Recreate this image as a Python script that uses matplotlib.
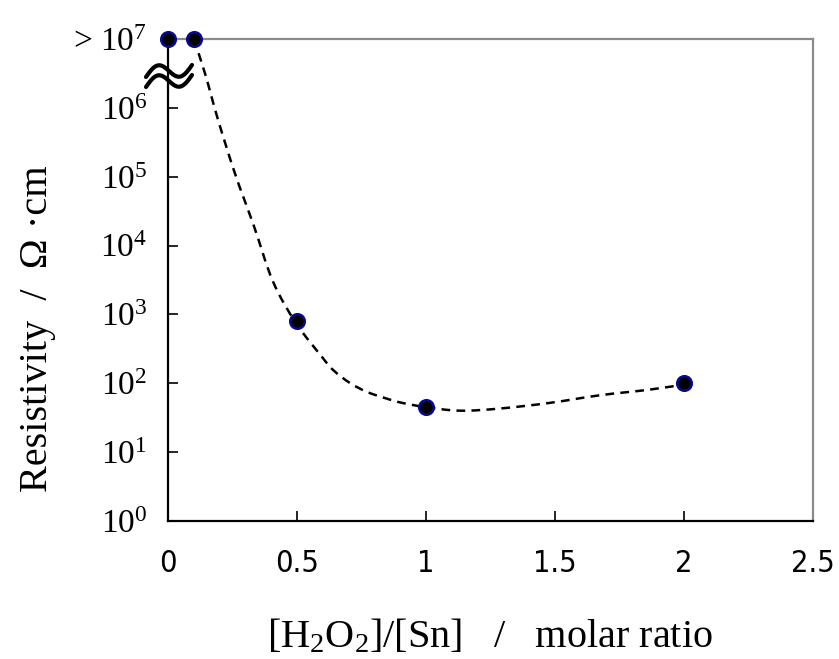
import numpy as np
import matplotlib
matplotlib.use("Agg")
import matplotlib.pyplot as plt
from matplotlib.lines import Line2D
from matplotlib.path import Path
from matplotlib.patches import PathPatch

plt.rcParams["mathtext.fontset"] = "custom"
plt.rcParams["mathtext.rm"] = "Liberation Serif"
plt.rcParams["mathtext.it"] = "Liberation Serif:italic"
plt.rcParams["mathtext.bf"] = "Liberation Serif:bold"

# measured samples
ratio = [0.0, 0.1, 0.5, 1.0, 2.0]
resistivity = [1e7, 1e7, 800, 46, 100]

# hand-drawn trend curve through the samples
trend_x = [0.1, 0.143, 0.194, 0.260, 0.333, 0.407, 0.496, 0.597, 0.640,
           0.705, 0.771, 0.841, 0.907, 1.0, 1.132, 1.287, 1.481, 1.674,
           1.868, 2.0]
trend_y = [1e7, 3.2e6, 6.7e5, 1.1e5, 1.92e4, 3.0e3, 750, 241, 156,
           101, 75, 61, 52, 45, 40, 43, 52, 67,
           81, 96]

xticks = [0, 0.5, 1, 1.5, 2, 2.5]
xtick_labels = ["0", "0.5", "1", "1.5", "2", "2.5"]
yticks = [1e0, 1e1, 1e2, 1e3, 1e4, 1e5, 1e6, 1e7]
ytick_labels = [r"$10^{0}$", r"$10^{1}$", r"$10^{2}$", r"$10^{3}$",
                r"$10^{4}$", r"$10^{5}$", r"$10^{6}$", r"> $10^{7}$"]

W, H = 839, 659
fig = plt.figure(figsize=(W / 100, H / 100), dpi=100)
ax = fig.add_axes([168 / W, 1 - 521 / H, (813 - 168) / W, (521 - 39) / H])

ax.set_yscale("log")
ax.set_xlim(0, 2.5)
ax.set_ylim(1e0, 1e7)


def smooth_path(xs, ys, sx=258.0, sy=68.86):
    """Catmull-Rom curve through the given points, as cubic Bezier segments."""
    p = np.column_stack([np.asarray(xs) * sx, np.log10(ys) * sy])
    p = np.vstack([p[0], p, p[-1]])
    verts = [p[1]]
    codes = [Path.MOVETO]
    for i in range(1, len(p) - 2):
        p0, p1, p2, p3 = p[i - 1], p[i], p[i + 1], p[i + 2]
        c1 = p1 + (p2 - p0) / 6.0
        c2 = p2 - (p3 - p1) / 6.0
        verts += [c1, c2, p2]
        codes += [Path.CURVE4] * 3
    v = np.array(verts)
    v[:, 0] /= sx
    v[:, 1] = 10 ** (v[:, 1] / sy)
    return Path(v, codes)


ax.add_patch(PathPatch(smooth_path(trend_x, trend_y), fill=False,
                       edgecolor="black", lw=1.8, ls=(0, (3.5, 2.5)), zorder=2))
ax.plot(ratio, resistivity, ls="none", marker="o", ms=10.5,
        mfc="black", mec="#0a0a90", mew=1.8, clip_on=False, zorder=3)

ax.set_xticks(xticks)
ax.set_xticklabels(xtick_labels, family="DejaVu Sans", stretch="condensed",
                   fontsize=22)
ax.set_yticks(yticks)
ax.set_yticklabels(ytick_labels, family="Liberation Serif", fontsize=24)
ax.minorticks_off()
ax.tick_params(axis="x", direction="in", length=7, width=1.2, pad=20)
ax.tick_params(axis="y", direction="in", length=7, width=1.2, pad=15)

for side in ("left", "bottom"):
    ax.spines[side].set_color("black")
    ax.spines[side].set_linewidth(1.6)
for side in ("top", "right"):
    ax.spines[side].set_color("#8a8a8a")
    ax.spines[side].set_linewidth(1.6)

ax.set_ylabel("Resistivity  /  Ω ·cm", family="Liberation Serif", fontsize=29)
ax.yaxis.set_label_coords(-0.203, 0.40)
ax.yaxis.label.set_verticalalignment("center")
ax.set_xlabel(r"[H$_2$O$_2$]/[Sn]   /   molar ratio", family="Liberation Serif",
              fontsize=29)
ax.xaxis.set_label_coords(0.499, -0.24)
ax.xaxis.label.set_verticalalignment("center")

# axis-break mark on the left spine
u = np.linspace(0, 1, 80)
for dy in (0, 10):
    px = 146 + 46 * u
    py = 77 + dy - (12 * u + 8.5 * np.sin(2 * np.pi * u))
    fig.add_artist(Line2D(px / W, 1 - py / H, color="black", lw=3.0,
                          transform=fig.transFigure, solid_capstyle="round"))

fig.savefig("out.png", dpi=100)
